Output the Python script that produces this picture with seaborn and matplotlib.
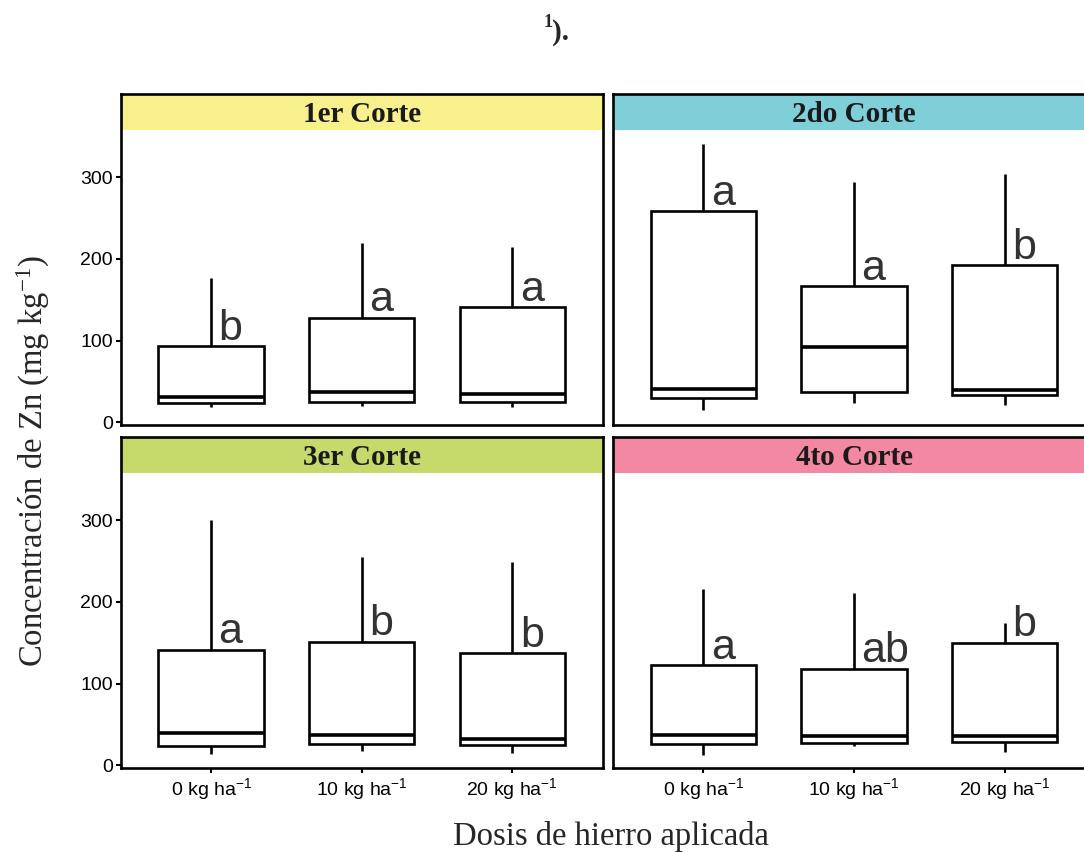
import numpy as np
import pandas as pd
import matplotlib
matplotlib.use("Agg")
import matplotlib.pyplot as plt
from matplotlib.patches import Rectangle
import seaborn as sns

# ---------------- data ----------------
cortes = ["1er Corte", "2do Corte", "3er Corte", "4to Corte"]
dosis = ["0 kg ha$^{-1}$", "10 kg ha$^{-1}$", "20 kg ha$^{-1}$"]
strip_colors = ["#F7F08C", "#7ECFD7", "#C5DA6A", "#F388A2"]

whisker_low = [[18.6, 20.2, 18.6], [14.5, 23.5, 21.0], [13.7, 17.8, 14.5], [12.9, 24.0, 15.7]]
q1 = [[23.5, 24.3, 24.3], [30.0, 37.0, 34.0], [24.0, 26.0, 25.0], [26.0, 27.6, 28.0]]
median = [[31.2, 37.0, 34.5], [40.6, 91.6, 39.8], [39.0, 36.6, 32.5], [37.4, 35.3, 36.2]]
q3 = [[93.3, 128.3, 141.0], [258.6, 166.3, 192.4], [141.3, 151.0, 137.0], [122.5, 118.0, 150.0]]
whisker_high = [[176.5, 219.4, 214.5], [341.0, 294.0, 303.9], [300.0, 255.0, 249.0], [216.0, 210.8, 174.0]]
letters = [["b", "a", "a"], ["a", "a", "b"], ["a", "b", "b"], ["a", "ab", "b"]]

yticks = [0, 100, 200, 300]

rows = []
for c, corte in enumerate(cortes):
    for d, dose in enumerate(dosis):
        for v in (whisker_low[c][d], q1[c][d], median[c][d], q3[c][d], whisker_high[c][d]):
            rows.append({"corte": corte, "dosis": dose, "valor": v})
df = pd.DataFrame(rows)

# ---------------- style ----------------
sns.set_style("white")
plt.rcParams["font.family"] = ["Liberation Sans", "DejaVu Sans"]
plt.rcParams["mathtext.default"] = "regular"

W, H = 1084, 852
fig = plt.figure(figsize=(W / 100, H / 100), dpi=100)

col_left = [120.7, 613.0]
row_top = [94.0, 437.0]
pw, ph = 482.0, 331.0
strip_frac = 36.0 / ph

for c, corte in enumerate(cortes):
    r, k = divmod(c, 2)
    ax = fig.add_axes([col_left[k] / W, 1 - (row_top[r] + ph) / H, pw / W, ph / H])
    sub = df[df["corte"] == corte]
    sns.boxplot(data=sub, x="dosis", y="valor", order=dosis, ax=ax,
                color="white", linecolor="black", linewidth=1.9, width=0.7,
                whis=(0, 100), showcaps=False, fliersize=0,
                medianprops={"linewidth": 2.6})
    ax.set_xlim(-0.6, 2.6)
    ax.set_ylim(-3.3, 402)
    ax.set_xlabel("")
    ax.set_ylabel("")
    ax.set_yticks(yticks)
    ax.set_yticklabels([str(t) for t in yticks])

    # strip
    ax.add_patch(Rectangle((0, 1 - strip_frac), 1, strip_frac, transform=ax.transAxes,
                           facecolor=strip_colors[c], edgecolor="none", zorder=1))
    ax.text(0.5, 1 - strip_frac / 2 - 0.009, corte, transform=ax.transAxes, ha="center",
            va="center", family="Liberation Serif", fontweight="bold", fontsize=21,
            color="#1a1a1a")

    for sp in ax.spines.values():
        sp.set_visible(True)
        sp.set_color("black")
        sp.set_linewidth(1.9)
        sp.set_zorder(5)

    for d in range(len(dosis)):
        ax.text(d + 0.05, q3[c][d] + 8, letters[c][d], ha="left", va="baseline",
                fontsize=31, color="#333333", family="Liberation Sans")

    ax.tick_params(axis="both", length=3.8, width=1.5, pad=2, labelsize=14,
                   color="black", labelcolor="black", left=True, bottom=True)
    if r == 0:
        ax.tick_params(axis="x", bottom=False, labelbottom=False)
    if k == 1:
        ax.tick_params(axis="y", left=False, labelleft=False)

fig.text(33 / W, 1 - 461 / H, "Concentración de Zn (mg kg$^{-1}$)", rotation=90,
         ha="center", va="center", family="Liberation Serif", fontsize=23.5)
fig.text(611 / W, 1 - 836 / H, "Dosis de hierro aplicada", ha="center", va="center",
         family="Liberation Serif", fontsize=23.5)
fig.text(552 / W, 1 - 40 / H, ").", ha="left", va="baseline",
         family="Liberation Serif", fontweight="bold", fontsize=21)
fig.text(544 / W, 1 - 27 / H, "1", ha="left", va="baseline",
         family="Liberation Serif", fontweight="bold", fontsize=13)

fig.savefig("out.png", dpi=100)
